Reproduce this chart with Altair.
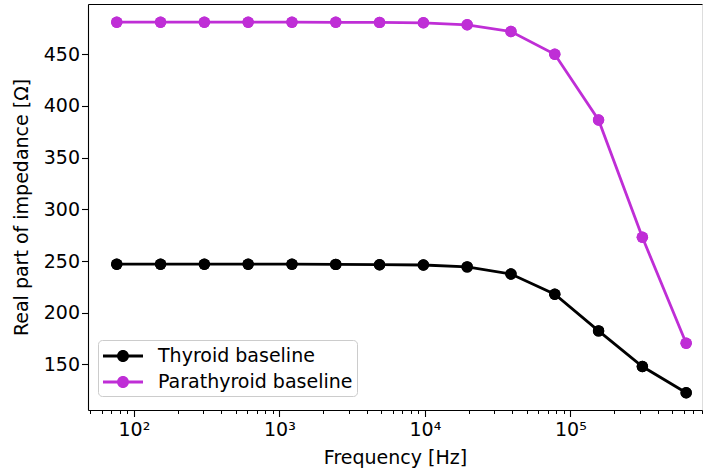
import altair as alt
import pandas as pd

freqs = [76.29, 152.59, 305.18, 610.35, 1220.7, 2441.4, 4882.8, 9765.6,
         19531.25, 39062.5, 78125, 156250, 312500, 625000]
thyroid = [247.0, 247.0, 247.0, 247.0, 247.0, 246.8, 246.5, 246.2,
           244.4, 237.5, 218.0, 182.5, 148.0, 122.7]
parathyroid = [481.0, 481.0, 481.0, 481.0, 481.0, 480.9, 480.8, 480.4,
               478.5, 472.0, 450.0, 386.5, 273.0, 170.5]
series_names = ["Thyroid baseline", "Parathyroid baseline"]
series_colors = ["#000000", "#BF2ED6"]
major_ticks = [100, 1000, 10000, 100000]
minor_ticks = [m * 10 ** e for e in range(1, 6) for m in range(2, 10)
               if 48 <= m * 10 ** e <= 800000]
y_ticks = [150, 200, 250, 300, 350, 400, 450]

rows = []
for f, t, p in zip(freqs, thyroid, parathyroid):
    rows.append({"freq": f, "value": t, "series": series_names[0]})
    rows.append({"freq": f, "value": p, "series": series_names[1]})
df = pd.DataFrame(rows)

FONT = "DejaVu Sans"
FS = 19

xscale = alt.Scale(type="log", domain=[48.4, 803000], nice=False)
yscale = alt.Scale(domain=[106, 498.6], nice=False, zero=False)
cscale = alt.Scale(domain=series_names, range=series_colors)

legend_path = ("M-1.667,-0.117L1.667,-0.117L1.667,0.117L-1.667,0.117Z "
               "M-0.5,0A0.5,0.5,0,1,1,0.5,0A0.5,0.5,0,1,1,-0.5,0Z")

yaxis = alt.Axis(values=y_ticks, grid=False, tickSize=6.5, tickWidth=1.1,
                 tickColor="black", domainColor="black", domainWidth=1.1,
                 labelFont=FONT, labelFontSize=FS, labelColor="black",
                 labelPadding=2, title="Real part of impedance [Ω]",
                 titleFont=FONT, titleFontSize=FS, titleFontWeight="normal",
                 titleColor="black", titlePadding=12)

base = alt.Chart(df)

legend_points = base.mark_point(filled=True, size=130, opacity=1, strokeWidth=0).encode(
    x=alt.X("freq:Q", scale=xscale,
            axis=alt.Axis(values=minor_ticks, labels=False, domain=False,
                          grid=False, tickSize=3.5, tickWidth=1, tickColor="black",
                          title=None, orient="bottom")),
    y=alt.Y("value:Q", scale=yscale, axis=yaxis),
    color=alt.Color("series:N", scale=cscale,
                    legend=alt.Legend(title=None, orient="none", legendX=10, legendY=336,
                                      symbolType=legend_path, symbolSize=576,
                                      symbolStrokeWidth=0, symbolOffset=9,
                                      labelOffset=23, labelLimit=400,
                                      labelFont=FONT, labelFontSize=FS, labelColor="black",
                                      padding=4, rowPadding=4,
                                      fillColor="rgba(255,255,255,0.8)",
                                      strokeColor="#cccccc", cornerRadius=4)),
)

lines = base.mark_line(strokeWidth=2.8).encode(
    x=alt.X("freq:Q", scale=xscale,
            axis=alt.Axis(values=major_ticks, labelExpr="datum.value == 100 ? '10²' : datum.value == 1000 ? '10³' : datum.value == 10000 ? '10⁴' : '10⁵'",
                          grid=False, tickSize=6.5, tickWidth=1.1, tickColor="black",
                          domainColor="black", domainWidth=1.1,
                          labelFont=FONT, labelFontSize=FS, labelColor="black",
                          labelPadding=4, title="Frequency [Hz]", titleFont=FONT,
                          titleFontSize=FS, titleFontWeight="normal", titleColor="black",
                          titlePadding=9, orient="bottom")),
    y=alt.Y("value:Q", scale=yscale, axis=yaxis),
    color=alt.Color("series:N", scale=cscale),
)

top_spine = base.mark_line(opacity=0).encode(
    x=alt.X("freq:Q", scale=xscale,
            axis=alt.Axis(orient="top", labels=False, ticks=False, grid=False,
                          domainColor="black", domainWidth=1.1, title=None)),
    y=alt.Y("value:Q", scale=yscale, axis=yaxis),
    detail="series:N",
)

top_points = base.mark_point(filled=True, size=130, opacity=1, strokeWidth=0).encode(
    x=alt.X("freq:Q", scale=xscale, axis=None),
    y=alt.Y("value:Q", scale=yscale, axis=yaxis),
    color=alt.Color("series:N", scale=cscale),
)

chart = alt.layer(legend_points, lines, top_spine, top_points).resolve_axis(x="independent").properties(
    width=614, height=406,
    autosize=alt.AutoSizeParams(type="none"),
    padding={"left": 88, "top": 4, "right": 1, "bottom": 63},
).configure_view(stroke=None).configure(background="white")

chart.save("out.html", embed_options={"renderer": "svg", "actions": False})
